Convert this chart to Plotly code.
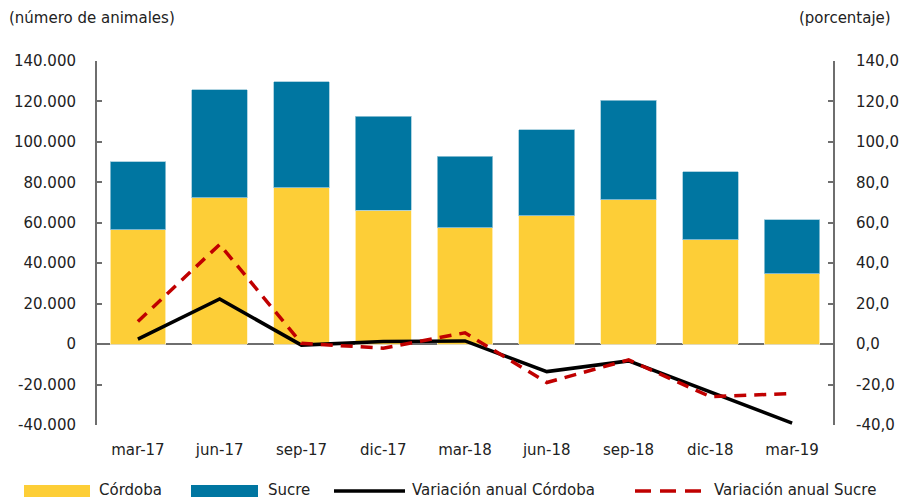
import plotly.graph_objects as go

categories = ["mar-17", "jun-17", "sep-17", "dic-17", "mar-18", "jun-18", "sep-18", "dic-18", "mar-19"]
cordoba = [56500, 72400, 77400, 66300, 57500, 63500, 71400, 51600, 34900]
totals = [90300, 125700, 129700, 112800, 93000, 105900, 120700, 85200, 61500]
sucre = [t - c for t, c in zip(totals, cordoba)]
var_cordoba = [2.5, 22.3, -0.5, 1.3, 1.6, -13.6, -8.3, -23.9, -39.1]
var_sucre = [11.2, 49.3, 0.4, -2.0, 5.6, -19.0, -7.8, -26.0, -24.4]

left_tickvals = [-40000, -20000, 0, 20000, 40000, 60000, 80000, 100000, 120000, 140000]
left_ticktext = ["-40.000", "-20.000", "0", "20.000", "40.000", "60.000", "80.000", "100.000", "120.000", "140.000"]
right_tickvals = [-40, -20, 0, 20, 40, 60, 80, 100, 120, 140]
right_ticktext = ["-40,0", "-20,0", "0,0", "20,0", "40,0", "60,0", "80,0", "100,0", "120,0", "140,0"]

YELLOW = "#FDCE37"
BLUE = "#0076A1"
RED = "#C00000"
GRAY = "#6E6E6E"
FONT = "DejaVu Sans"
FS = 15

W, H = 899, 500
ML, MR, MT, MB = 97, 66, 61, 75
PW, PH = W - ML - MR, H - MT - MB

def px(x):
    return (x - ML) / PW

def py(y):
    return (H - MB - y) / PH

fig = go.Figure()
fig.add_trace(go.Bar(x=categories, y=cordoba, name="Córdoba", marker=dict(color=YELLOW, line=dict(color="#FFF3C8", width=0.8))))
fig.add_trace(go.Bar(x=categories, y=sucre, name="Sucre", marker=dict(color=BLUE, line=dict(color="#9CC9DA", width=0.8))))
fig.add_trace(go.Scatter(x=categories, y=var_cordoba, name="Variación anual Córdoba", yaxis="y2", mode="lines",
                         line=dict(color="black", width=3.5)))
fig.add_trace(go.Scatter(x=categories, y=var_sucre, name="Variación anual Sucre", yaxis="y2", mode="lines",
                         line=dict(color=RED, width=3.5, dash="12px,8px")))

shapes = []
annotations = []
legend_items = [
    ("rect", YELLOW, 24, 90, "Córdoba", 97),
    ("rect", BLUE, 191, 258, "Sucre", 266),
    ("line", "black", 334, 405, "Variación anual Córdoba", 410),
    ("dash", RED, 635, 705, "Variación anual Sucre", 712),
]
ly = 490
for kind, col, x0, x1, label, tx in legend_items:
    if kind == "rect":
        shapes.append(dict(type="rect", xref="paper", yref="paper", x0=px(x0), x1=px(x1), y0=py(ly + 7), y1=py(ly - 5),
                           fillcolor=col, line=dict(width=0)))
    else:
        shapes.append(dict(type="line", xref="paper", yref="paper", x0=px(x0), x1=px(x1), y0=py(ly + 1), y1=py(ly + 1),
                           line=dict(color=col, width=3.5, dash="solid" if kind == "line" else "16px,9px")))
    annotations.append(dict(text=label, xref="paper", yref="paper", x=px(tx), y=py(ly), xanchor="left", yanchor="middle",
                            showarrow=False, font=dict(family=FONT, size=FS, color="#222")))

annotations.append(dict(text="(número de animales)", xref="paper", yref="paper", x=px(7), y=py(18), xanchor="left",
                        yanchor="middle", showarrow=False, font=dict(family=FONT, size=FS, color="#222")))
annotations.append(dict(text="(porcentaje)", xref="paper", yref="paper", x=px(893), y=py(18), xanchor="right",
                        yanchor="middle", showarrow=False, font=dict(family=FONT, size=FS, color="#222")))

fig.update_layout(
    width=W, height=H,
    margin=dict(l=ML, r=MR, t=MT, b=MB, pad=0, autoexpand=False),
    barmode="stack", bargap=0.32,
    plot_bgcolor="white", paper_bgcolor="white",
    showlegend=False,
    font=dict(family=FONT, size=FS, color="#222"),
    shapes=shapes, annotations=annotations,
    xaxis=dict(showline=False, ticks="", showgrid=False, tickfont=dict(size=FS), ticklabelstandoff=14,
               automargin=False),
    yaxis=dict(range=[-40000, 140000], tickvals=left_tickvals, ticktext=left_ticktext, showgrid=False,
               showline=True, linecolor=GRAY, linewidth=2, ticks="inside", ticklen=5, tickcolor=GRAY, tickwidth=2,
               zeroline=True, zerolinecolor=GRAY, zerolinewidth=2, ticklabelstandoff=16, tickfont=dict(size=FS),
               automargin=False),
    yaxis2=dict(range=[-40, 140], tickvals=right_tickvals, ticktext=right_ticktext, overlaying="y", side="right",
                showgrid=False, showline=True, linecolor=GRAY, linewidth=2, ticks="inside", ticklen=5,
                tickcolor=GRAY, tickwidth=2, zeroline=False, ticklabelstandoff=18, tickfont=dict(size=FS),
                automargin=False),
)

fig.write_html("out.html", config={"displayModeBar": False},
               post_script="document.body.style.margin='0';document.body.style.padding='0';")
